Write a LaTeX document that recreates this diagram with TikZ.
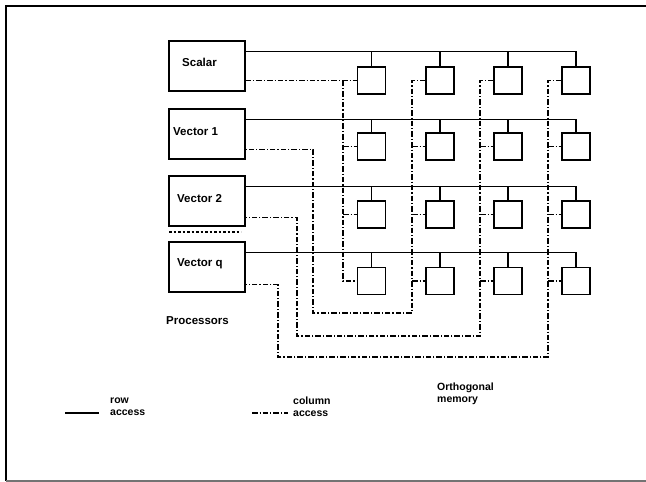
\documentclass[tikz,border=0pt]{standalone}
\usepackage{fontspec}
\setmainfont{Liberation Sans}
\begin{document}
\begin{tikzpicture}[x=1pt,y=-1pt,
  proc/.style={draw, line width=1.4pt, minimum width=76pt, minimum height=50pt, inner sep=0pt},
  mem/.style={draw, line width=1.4pt, minimum width=28pt, minimum height=27pt, inner sep=0pt},
  rowline/.style={line width=1.3pt},
  colline/.style={line width=1.2pt, dash pattern=on 5.5pt off 2pt on 1.2pt off 2pt},
  sepline/.style={line width=1.2pt, dash pattern=on 2.5pt off 2pt},
  frameline/.style={line width=1.6pt},
  lbl/.style={font=\bfseries\fontsize{11.5}{13}\selectfont, inner sep=0pt, anchor=base west},
  small/.style={font=\bfseries\fontsize{10.5}{12}\selectfont, inner sep=0pt, anchor=base west},
]
\useasboundingbox (0,0) rectangle (646,482);
% frame
\coordinate (ftr) at (646,6);
\coordinate (ftl) at (6,6);
\coordinate (fbl) at (6,481);
\coordinate (fbr) at (646,481);
\draw[frameline] (ftr) -- (ftl) -- (fbl);
\draw[frameline, black!55] (fbl) -- (fbr);

% processors
\node[proc] (s)  at (207,66)  {};
\node[proc] (v1) at (207,134) {};
\node[proc] (v2) at (207,201) {};
\node[proc] (vq) at (207,267) {};
\node[lbl] (ts)  at (182,66)  {Scalar};
\node[lbl] (tv1) at (173,135) {Vector 1};
\node[lbl] (tv2) at (177,202) {Vector 2};
\node[lbl] (tvq) at (177,266) {Vector q};
\coordinate (d1) at (169,232);
\coordinate (d2) at (241,232);
\draw[sepline] (d1) -- (d2);
\node[lbl] (tp) at (166,324) {Processors};

% memory modules
\foreach \r/\yy in {1/80.5,2/146.5,3/214.5,4/281}{
  \foreach \c/\xx in {1/371.5,2/440,3/508,4/576}{
    \node[mem] (m\r\c) at (\xx,\yy) {};
  }
}

% row access lines
\foreach \p/\r in {s/1,v1/2,v2/3,vq/4}{
  \coordinate (r\r) at ([yshift=-11.5pt]\p.north east);
  \draw[rowline] (r\r) -| (m\r4.north);
  \foreach \c in {1,2,3}{
    \draw[rowline] (m\r\c.north) -- (m\r\c.north |- r\r);
  }
}

% column access lines
\coordinate (c1) at (343,80.5);
\coordinate (c2) at (412,80.5);
\coordinate (c3) at (480,80.5);
\coordinate (c4) at (548,80.5);
\coordinate (b2) at (313,313);
\coordinate (b3) at (297,336);
\coordinate (b4) at (278,357);
\coordinate (p2) at ([yshift=10pt]v1.south east);
\coordinate (p3) at ([yshift=9pt]v2.south east);
\coordinate (p4) at ([yshift=8pt]vq.south east);

\draw[colline] (s.east |- m11.west) -- (m11.west);
\draw[colline] (c1) |- (m41.west);
\draw[colline] (m12.west) -- (c2) -- (c2 |- b2) -- (b2) -- (b2 |- p2) -- (p2);
\draw[colline] (m13.west) -- (c3) -- (c3 |- b3) -- (b3) -- (b3 |- p3) -- (p3);
\draw[colline] (m14.west) -- (c4) -- (c4 |- b4) -- (b4) -- (b4 |- p4) -- (p4);
\foreach \r in {2,3}{
  \draw[colline] (m\r1.west -| c1) -- (m\r1.west);
}
\foreach \r in {2,3,4}{
  \foreach \c in {2,3,4}{
    \draw[colline] (m\r\c.west -| c\c) -- (m\r\c.west);
  }
}

% labels
\node[small, align=left, anchor=north west] (tom) at (437,383) {Orthogonal\\memory};

% legend
\coordinate (la1) at (65,413);
\coordinate (la2) at (99,413);
\draw[rowline] (la1) -- (la2);
\node[small, align=left, anchor=north west] (tra) at (110,398) {row\\access};
\coordinate (lb1) at (252,413);
\coordinate (lb2) at (288,413);
\draw[colline] (lb1) -- (lb2);
\node[small, align=left, anchor=north west] (tca) at (293,397) {column\\access};
\end{tikzpicture}
\end{document}
